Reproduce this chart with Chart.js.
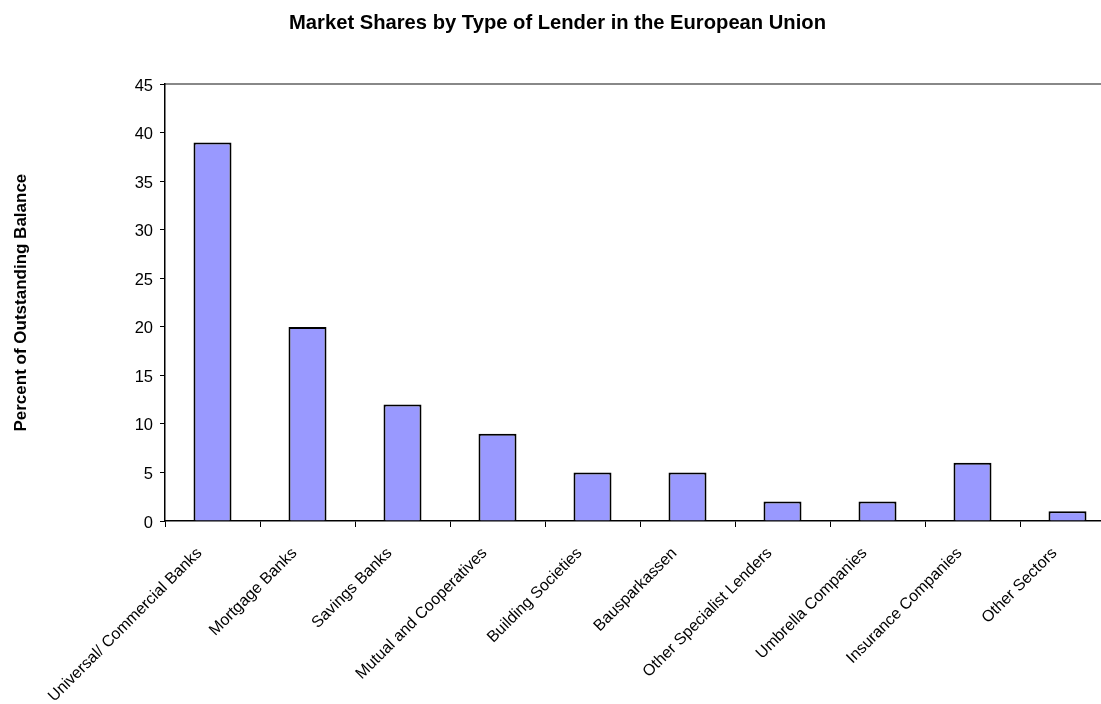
<!DOCTYPE html>
<html>
<head>
<meta charset="utf-8">
<script src="https://cdn.jsdelivr.net/npm/chart.js@4"></script>
<style>
    body { margin: 0; background: #fff; overflow: hidden; }
    #wrap { width: 1101px; height: 704px; overflow: hidden; }
</style>
</head>
<body>
<div id="wrap">
    <canvas id="myChart" width="1120" height="704"></canvas>
</div>
<script>
const lenderTypes = [
    'Universal/ Commercial Banks',
    'Mortgage Banks',
    'Savings Banks',
    'Mutual and Cooperatives',
    'Building Societies',
    'Bausparkassen',
    'Other Specialist Lenders',
    'Umbrella Companies',
    'Insurance Companies',
    'Other Sectors'
];
const marketShares = [39, 20, 12, 9, 5, 5, 2, 2, 6, 1];
const yTicks = [0, 5, 10, 15, 20, 25, 30, 35, 40, 45];

const fontFamily = '"Liberation Sans", Arial, sans-serif';

const ctx = document.getElementById('myChart').getContext('2d');

const myChart = new Chart(ctx, {
    type: 'bar',
    data: {
        labels: lenderTypes,
        datasets: [{
            label: 'Market share',
            data: marketShares,
            backgroundColor: '#9999FF',
            borderColor: '#000000',
            borderWidth: 2,
            borderSkipped: 'bottom',
            barPercentage: 0.4,
            categoryPercentage: 1.0
        }]
    },
    options: {
        responsive: false,
        animation: false,
        layout: {
            padding: { left: 0, right: 5, top: 0, bottom: 0 }
        },
        plugins: {
            legend: { display: false },
            tooltip: { enabled: false },
            title: {
                display: true,
                text: 'Market Shares by Type of Lender in the European Union',
                color: '#000',
                font: { family: fontFamily, size: 20.2, weight: 'bold' },
                padding: { top: 11, bottom: 49 }
            }
        },
        scales: {
            x: {
                position: 'bottom',
                grid: {
                    display: true,
                    drawOnChartArea: false,
                    drawTicks: true,
                    tickLength: 6,
                    color: '#000',
                    offset: true
                },
                border: { color: '#000', width: 1.5 },
                ticks: {
                    color: '#000',
                    font: { family: fontFamily, size: 16 },
                    minRotation: 45,
                    maxRotation: 45,
                    autoSkip: false,
                    padding: 17,
                    labelOffset: -13
                },
                afterFit: function(scale) {
                    scale.height = 183;
                }
            },
            // grey frame line along the top of the plot
            x2: {
                position: 'top',
                grid: { display: false },
                border: { color: '#888', width: 2 },
                ticks: { display: false },
                afterFit: function(scale) {
                    scale.height = 0;
                }
            },
            y: {
                min: 0,
                max: 45,
                afterBuildTicks: function(scale) {
                    scale.ticks = yTicks.map(v => ({ value: v }));
                },
                grid: {
                    display: true,
                    drawOnChartArea: false,
                    drawTicks: true,
                    tickLength: 5,
                    color: '#000'
                },
                border: { color: '#000', width: 1.5 },
                ticks: {
                    color: '#000',
                    font: { family: fontFamily, size: 16.5 },
                    padding: 7,
                    labelOffset: 2
                },
                title: {
                    display: true,
                    text: 'Percent of Outstanding Balance',
                    color: '#000',
                    font: { family: fontFamily, size: 17, weight: 'bold' },
                    padding: { top: 11, bottom: 0 }
                },
                afterFit: function(scale) {
                    scale.width = 165;
                }
            }
        }
    }
});
</script>
</body>
</html>
